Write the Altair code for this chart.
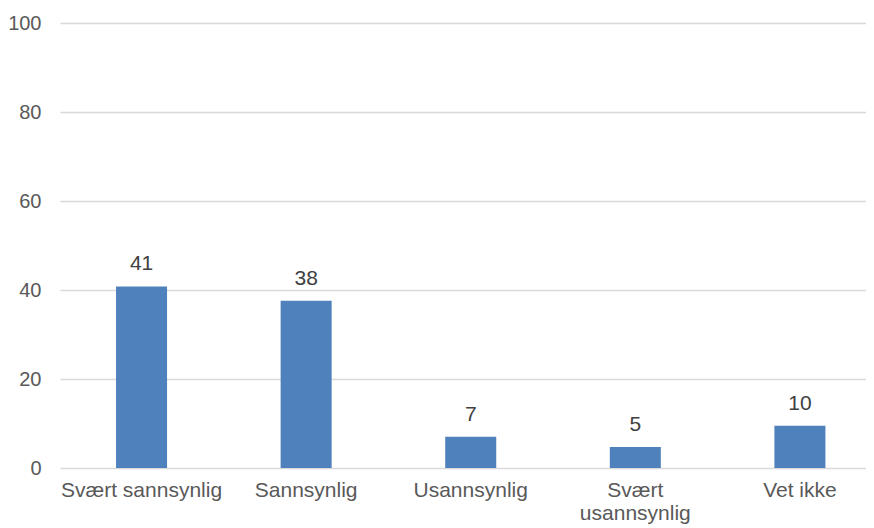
import altair as alt
import pandas as pd

categories = ["Svært sannsynlig", "Sannsynlig", "Usannsynlig", "Svært usannsynlig", "Vet ikke"]
values = [40.8, 37.6, 7.0, 4.7, 9.5]

df = pd.DataFrame({"kategori": categories, "verdi": values})

x_enc = alt.X(
    "kategori:N",
    sort=categories,
    title=None,
    scale=alt.Scale(paddingInner=0.69, paddingOuter=0.2935, align=0.58, round=False),
    axis=alt.Axis(
        labelAngle=0,
        labelFont="Liberation Sans",
        labelFontSize=21,
        labelColor="#595959",
        labelPadding=11,
        labelLineHeight=23,
        labelBaseline="top",
        labelExpr="datum.value == 'Svært usannsynlig' ? ['Svært', 'usannsynlig'] : datum.label",
        domain=False,
        ticks=False,
        tickSize=0,
        grid=False,
        labelLimit=400,
    ),
)

y_enc = alt.Y(
    "verdi:Q",
    title=None,
    scale=alt.Scale(domain=[0, 100], nice=False),
    axis=alt.Axis(
        values=[0, 20, 40, 60, 80, 100],
        labelFont="Liberation Sans",
        labelFontSize=20,
        labelColor="#595959",
        labelPadding=19,
        domain=False,
        ticks=False,
        tickSize=0,
        grid=True,
        gridColor="#D9D9D9",
        gridWidth=1.3,
    ),
)

bars = alt.Chart(df).mark_bar(color="#4F81BD").encode(x=x_enc, y=y_enc)

labels = alt.Chart(df).mark_text(
    font="Liberation Sans",
    fontSize=21,
    color="#404040",
    baseline="alphabetic",
    align="center",
    dy=-16,
).encode(
    x=alt.X("kategori:N", sort=categories),
    y=alt.Y("verdi:Q"),
    text=alt.Text("verdi:Q", format=".0f"),
)

chart = (
    alt.layer(bars, labels)
    .properties(
        width=806,
        height=445,
        autosize=alt.AutoSizeParams(type="none"),
        padding={"left": 52, "top": 15, "right": 0, "bottom": 58},
        background="white",
    )
    .configure_view(strokeWidth=0)
)

chart.save("out.html", embed_options={"renderer": "svg", "actions": False})
